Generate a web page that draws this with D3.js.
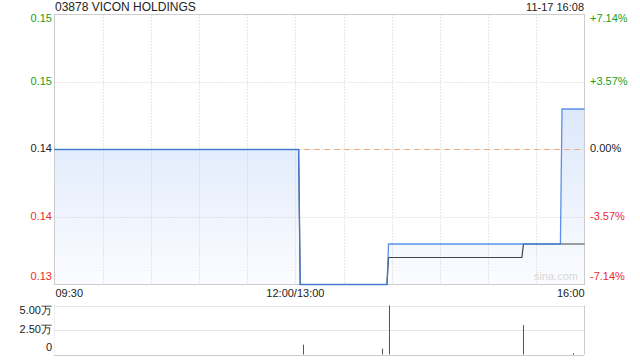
<!DOCTYPE html>
<html><head><meta charset="utf-8">
<script src="https://cdn.jsdelivr.net/npm/d3@7/dist/d3.min.js"></script>
<style>
html,body{margin:0;padding:0;background:#fff;}
svg text{font-family:"Liberation Sans",Arial,sans-serif;}
</style></head>
<body><svg id="c" width="640" height="360"></svg>
<script>
// ---- data ----
const title = "03878 VICON HOLDINGS";
const stamp = "11-17 16:08";
const prevClose = 0.14;
const priceTimes = ["09:30","13:02","13:03","13:57","13:58","15:45","15:46","16:00"];
const priceVals  = [0.14, 0.14, 0.13, 0.13, 0.133, 0.133, 0.143, 0.143];
const avgTimes = ["09:30","13:02","13:03","13:57","13:58","15:21","15:22","16:00"];
const avgVals  = [0.14, 0.14, 0.13, 0.13, 0.132, 0.132, 0.133, 0.133];
const volTimes = ["13:05","13:54","13:58","15:22","15:53"];
const volVals  = [10000, 6000, 50000, 30000, 1500];
const priceTicks = [0.15, 0.145, 0.14, 0.135, 0.13];
const priceTickLabels = ["0.15","0.15","0.14","0.14","0.13"];
const pctTickLabels = ["+7.14%","+3.57%","0.00%","-3.57%","-7.14%"];
const volTicks = [50000, 25000, 0];
const volTickLabels = ["5.00万","2.50万","0"];
const timeLabels = ["09:30","12:00/13:00","16:00"];
const timeLabelMinutes = [0,150,330];

// minute index from HH:MM (lunch break collapsed)
function mi(t){const [h,m]=t.split(":").map(Number);const v=h*60+m;return v<=720?v-570:v-780+150;}

const svg=d3.select("#c");
const L=54.5,R=584.5,T=14.5,B=284.5,VT=305.5,VB=354.5;
const x=d3.scaleLinear().domain([0,330]).range([L,R]);
const y=d3.scaleLinear().domain([0.13,0.15]).range([B,T]);
const yv=d3.scaleLinear().domain([0,50000]).range([VB,VT]);

const defs=svg.append("defs");
const g=defs.append("linearGradient").attr("id","fillg").attr("gradientUnits","userSpaceOnUse")
 .attr("x1",0).attr("x2",0).attr("y1",90).attr("y2",B);
g.append("stop").attr("offset",0).attr("stop-color","#d9e6fb");
g.append("stop").attr("offset",1).attr("stop-color","#fbfcff");

// title
svg.append("text").attr("x",55).attr("y",8).attr("dominant-baseline","middle").attr("font-size",12).attr("fill","#222").text(title);
svg.append("text").attr("x",584).attr("y",8).attr("dominant-baseline","middle").attr("text-anchor","end").attr("font-size",11).attr("fill","#222").text(stamp);

// area fill
const pData=priceTimes.map((t,i)=>({m:mi(t),v:priceVals[i]}));
const aData=avgTimes.map((t,i)=>({m:mi(t),v:avgVals[i]}));
svg.append("path").datum(pData).attr("fill","url(#fillg)")
 .attr("d",d3.area().x(d=>x(d.m)).y0(B).y1(d=>y(d.v)));

// grid
const gridC="#cfcfcf";
d3.range(1,11).forEach(i=>{
  const xx=Math.round(x(i*30))+0.5;
  svg.append("line").attr("x1",xx).attr("x2",xx).attr("y1",T).attr("y2",B).attr("stroke",gridC).attr("stroke-dasharray","1,2");
});
priceTicks.forEach((p,i)=>{
  if(i===0||i===4) return;
  const yy=Math.round(y(p))+0.5;
  svg.append("line").attr("x1",L).attr("x2",R).attr("y1",yy).attr("y2",yy).attr("stroke",gridC).attr("stroke-dasharray","1,2");
});
const yc=Math.round(y(prevClose))+0.5;
svg.append("line").attr("x1",L).attr("x2",R).attr("y1",yc).attr("y2",yc).attr("stroke","#f0a46a").attr("stroke-dasharray","5,5");

// border
svg.append("rect").attr("x",L).attr("y",T).attr("width",R-L).attr("height",B-T).attr("fill","none").attr("stroke","#cccccc");

// lines
svg.append("path").datum(aData).attr("fill","none").attr("stroke","#444").attr("stroke-width",1.2)
 .attr("d",d3.line().x(d=>x(d.m)).y(d=>y(d.v)));
svg.append("path").datum(pData).attr("fill","none").attr("stroke","#3d7fe6").attr("stroke-width",1.3).attr("stroke-opacity",0.85)
 .attr("d",d3.line().x(d=>x(d.m)).y(d=>y(d.v)));

// watermark
svg.append("text").attr("x",578).attr("y",280).attr("text-anchor","end").attr("font-size",11).attr("fill","#d8d8d8").text("sina.com");

// y labels
function col(i){return i<2?"#19a019":(i===2?"#222":"#ee2b2b");}
priceTicks.forEach((p,i)=>{
  let yy=y(p); if(i===0) yy+=5; if(i===4) yy-=7;
  svg.append("text").attr("x",52).attr("y",yy).attr("dominant-baseline","middle").attr("text-anchor","end")
   .attr("font-size",11).attr("fill",col(i)).text(priceTickLabels[i]);
  svg.append("text").attr("x",590).attr("y",yy).attr("dominant-baseline","middle")
   .attr("font-size",11).attr("fill",col(i)).text(pctTickLabels[i]);
});

// time labels
timeLabels.forEach((t,i)=>{
  const a=i===0?"start":(i===2?"end":"middle");
  svg.append("text").attr("x",x(timeLabelMinutes[i])+(i===0?1:0)).attr("y",294).attr("dominant-baseline","middle")
   .attr("text-anchor",a).attr("font-size",11).attr("fill","#222").text(t);
});

// volume panel
volTicks.forEach((v,i)=>{
  const yy=Math.round(yv(v))+0.5;
  svg.append("line").attr("x1",L).attr("x2",R).attr("y1",yy).attr("y2",yy).attr("stroke",i===2?"#999":gridC).attr("stroke-dasharray","1,1");
  let ly=yv(v); if(i===0) ly+=6; if(i===2) ly-=6;
  svg.append("text").attr("x",52).attr("y",ly).attr("dominant-baseline","middle").attr("text-anchor","end")
   .attr("font-size",11).attr("fill","#222").text(volTickLabels[i]);
});
svg.append("line").attr("x1",L).attr("x2",L).attr("y1",VT).attr("y2",VB).attr("stroke","#e0e0e0").attr("stroke-dasharray","1,1");
svg.append("line").attr("x1",R).attr("x2",R).attr("y1",VT).attr("y2",VB).attr("stroke","#cccccc");
volTimes.forEach((t,i)=>{
  const xx=Math.round(x(mi(t)))+0.5;
  svg.append("line").attr("x1",xx).attr("x2",xx).attr("y1",VB).attr("y2",yv(volVals[i])).attr("stroke","#555");
});
</script></body></html>
